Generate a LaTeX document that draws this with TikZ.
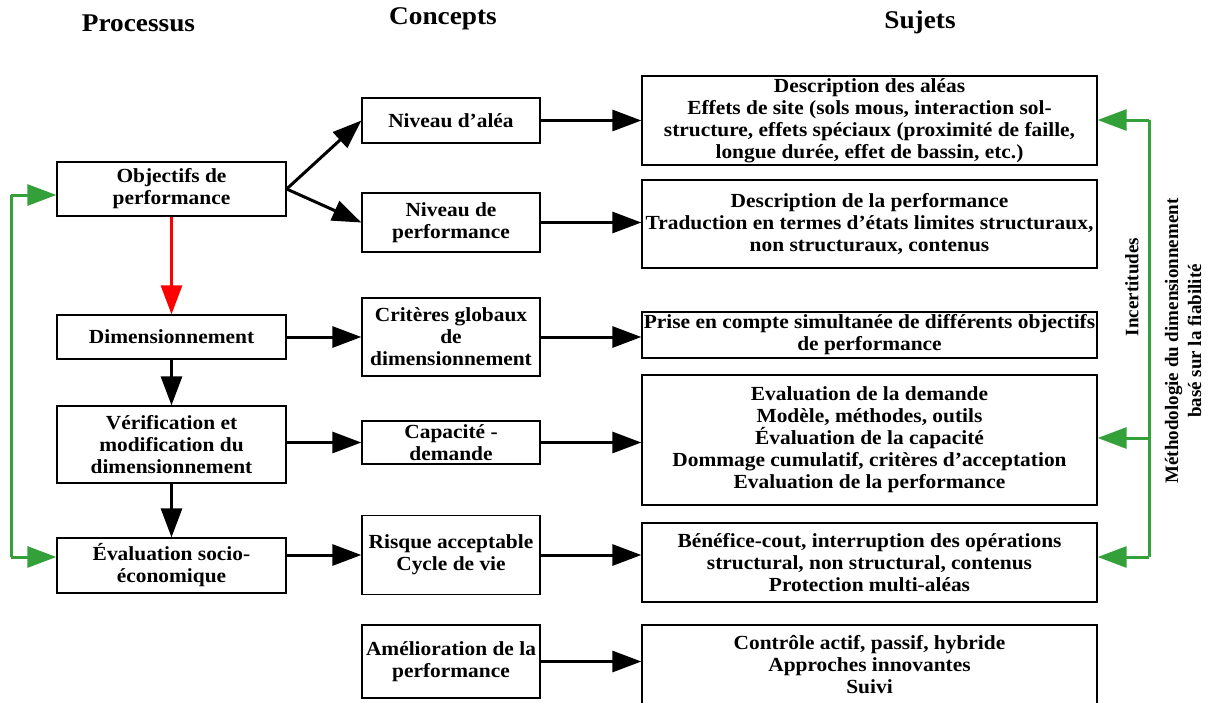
\documentclass[tikz,border=0pt]{standalone}
\usepackage{fontspec}
\setmainfont{Liberation Serif}[FakeStretch=1.07]
\newfontfamily\vfont{Liberation Serif}
\usetikzlibrary{arrows.meta,calc}
\definecolor{gline}{RGB}{52,160,58}
\definecolor{rline}{RGB}{255,0,0}
\tikzset{
  tip/.style={-{Triangle[length=29pt,width=21pt]}},
  box/.style={draw=black, line width=1.3pt, fill=white, align=center, inner sep=1pt,
    font=\fontsize{20}{22}\selectfont\bfseries},
  lbox/.style={box, minimum width=229pt},
  mbox/.style={box, minimum width=178pt},
  rbox/.style={box, minimum width=455pt},
  head/.style={font=\fontsize{25.5}{28}\selectfont\bfseries},
  vtext/.style={rotate=90, align=center, font=\vfont\fontsize{19}{23}\selectfont\bfseries},
  blk/.style={draw=black, line width=3pt, tip},
  red/.style={draw=rline, line width=3pt, tip},
  grn/.style={draw=gline, line width=3pt},
  grnar/.style={grn, tip},
}
\begin{document}
\begin{tikzpicture}[x=1pt,y=-1pt]
\useasboundingbox (0,0) rectangle (1212,702);
\begin{scope}
\clip (0,0) rectangle (1212,702);
% headers
\node[head] (h1) at (138.5,23) {Processus};
\node[head] (h2) at (443,19) {Concepts};
\node[head] (h3) at (920,22) {Sujets};
% left column
\node[lbox, minimum height=54pt] (obj) at (171.5,189) {Objectifs de\\performance};
\node[lbox, minimum height=44pt] (dim) at (171.5,337) {Dimensionnement};
\node[lbox, minimum height=77pt] (ver) at (171.5,444.5) {Vérification et\\modification du\\dimensionnement};
\node[lbox, minimum height=55pt] (eva) at (171.5,565.5) {Évaluation socio-\\économique};
% middle column
\node[mbox, minimum height=45pt] (ale) at (451,120.5) {Niveau d’aléa};
\node[mbox, minimum height=59pt] (perf) at (451,222.5) {Niveau de\\performance};
\node[mbox, minimum height=78pt] (crit) at (451,337) {Critères globaux\\de\\dimensionnement};
\node[mbox, minimum height=43pt] (cap) at (451,442.5) {Capacité -\\demande};
\node[mbox, minimum height=79pt] (risk) at (451,555) {Risque acceptable\\Cycle de vie};
\node[mbox, minimum height=73pt] (ame) at (451,661.5) {Amélioration de la\\performance};
% right column
\node[rbox, minimum height=89pt] (s1) at (869.5,120.5) {Description des aléas\\Effets de site (sols mous, interaction sol-\\structure, effets spéciaux (proximité de faille,\\longue durée, effet de bassin, etc.)};
\node[rbox, minimum height=88pt] (s2) at (869.5,224) {Description de la performance\\Traduction en termes d’états limites structuraux,\\non structuraux, contenus};
\node[rbox, minimum height=46pt] (s3) at (869.5,335) {Prise en compte simultanée de différents objectifs\\de performance};
\node[rbox, minimum height=130pt] (s4) at (869.5,440) {Evaluation de la demande\\Modèle, méthodes, outils\\Évaluation de la capacité\\Dommage cumulatif, critères d’acceptation\\Evaluation de la performance};
\node[rbox, minimum height=79pt] (s5) at (869.5,562.5) {Bénéfice-cout, interruption des opérations\\structural, non structural, contenus\\Protection multi-aléas};
\node[rbox, minimum height=80pt] (s6) at (869.5,665) {Contrôle actif, passif, hybride\\Approches innovantes\\Suivi};
% vertical labels
\node[vtext] (inc) at (1132,287) {Incertitudes};
\node[vtext] (met) at (1183,341) {Méthodologie du dimensionnement\\basé sur la fiabilité};
% process arrows
\draw[red] (obj.south) -- (dim.north);
\draw[blk] (dim.south) -- (ver.north);
\draw[blk] (ver.south) -- (eva.north);
% concept arrows
\draw[blk] (obj.east) -- (ale.west);
\draw[blk] (obj.east) -- (perf.west);
\draw[blk] (dim.east) -- (dim.east -| crit.west);
\draw[blk] (cap.west -| ver.east) -- (cap.west);
\draw[blk] (risk.west -| eva.east) -- (risk.west);
% subject arrows
\draw[blk] (ale.east) -- (ale.east -| s1.west);
\draw[blk] (perf.east) -- (perf.east -| s2.west);
\draw[blk] (crit.east) -- (crit.east -| s3.west);
\draw[blk] (cap.east) -- (cap.east -| s4.west);
\draw[blk] (risk.east) -- (risk.east -| s5.west);
\draw[blk] (ame.east) -- (ame.east -| s6.west);
% green feedback, left
\coordinate (lt) at (11,195);
\coordinate (lb) at (11,557);
\draw[grn] (lt) -- (lb);
\draw[grnar] (lt) -- (lt -| obj.west);
\draw[grnar] (lb) -- (lb -| eva.west);
% green feedback, right
\coordinate (gt) at (1149,120);
\coordinate (gm) at (1149,438);
\coordinate (gb) at (1149,557);
\draw[grn] (gt) -- (gb);
\draw[grnar] (gt) -- (gt -| s1.east);
\draw[grnar] (gm) -- (gm -| s4.east);
\draw[grnar] (gb) -- (gb -| s5.east);
\end{scope}
\end{tikzpicture}
\end{document}
